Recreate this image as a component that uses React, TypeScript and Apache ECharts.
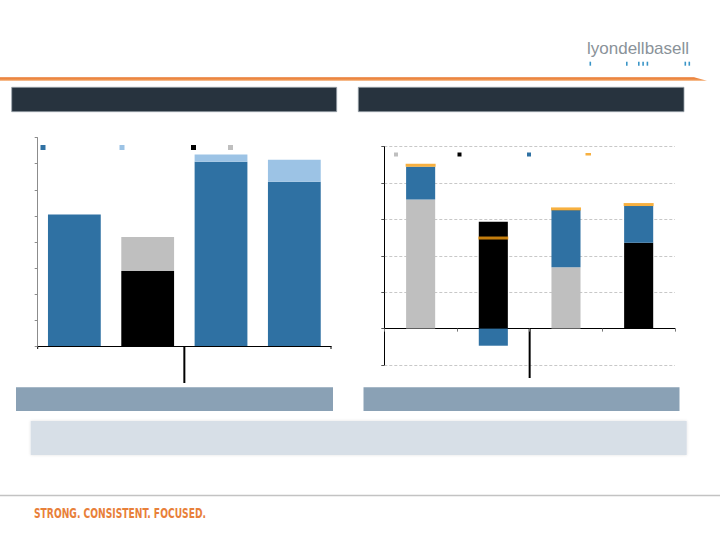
import React, { useEffect, useRef } from 'react';
import * as echarts from 'echarts';

// ---- Left chart data (stacked bars, axis units 0..8) ----
const leftCategories = ['Bar 1', 'Bar 2', 'Bar 3', 'Bar 4'];
const leftDarkBlue = [5.05, null, 7.08, 6.31];
const leftLightBlue = [null, null, 0.27, 0.84];
const leftBlack = [null, 2.88, null, null];
const leftGray = [null, 1.31, null, null];
const leftAxisMin = 0;
const leftAxisMax = 8;
const leftAxisInterval = 1;

// ---- Right chart data (stacked bars with total marker, axis units -1..5) ----
const rightCategories = ['Bar 1', 'Bar 2', 'Bar 3', 'Bar 4'];
const rightGray = [3.55, null, 1.69, null];
const rightBlack = [null, 2.94, null, 2.36];
const rightBlue = [0.9, -0.47, 1.57, 1.01];
const rightTotal = [4.49, 2.49, 3.29, 3.41];
const rightAxisMin = -1;
const rightAxisMax = 5;
const rightAxisInterval = 1;

const C_DARKBLUE = '#2F71A3';
const C_LIGHTBLUE = '#9CC3E5';
const C_BLACK = '#000000';
const C_GRAY = '#BFBFBF';
const C_ORANGE = '#F59C10';

export default function App() {
  const ref = useRef<HTMLDivElement>(null);

  useEffect(() => {
    if (!ref.current) return;
    const chart = echarts.init(ref.current, undefined, { renderer: 'svg' });

    const legendItem = (name: string, left: number, top: number, w: number, h: number) => ({
      show: true,
      data: [name],
      left,
      top,
      padding: 0,
      itemWidth: w,
      itemHeight: h,
      icon: 'rect',
      formatter: () => '',
      textStyle: { fontSize: 1 },
      selectedMode: false,
    });

    const option: any = {
      animation: false,
      backgroundColor: '#ffffff',
      grid: [
        { left: 37.7, top: 137.7, width: 293.3, height: 208.3 },
        { left: 384.3, top: 146.7, width: 290.7, height: 218.3 },
      ],
      legend: [
        legendItem('L Dark', 40.5, 145, 5, 5),
        legendItem('L Light', 119.5, 145, 5, 5),
        legendItem('L Black', 191, 145, 5, 5),
        legendItem('L Gray', 228, 145, 5, 5),
        legendItem('R Gray', 394, 152.5, 4, 4),
        legendItem('R Black', 457.5, 152.5, 4, 4),
        legendItem('R Blue', 527, 152.5, 4, 4),
        legendItem('R Total', 585.5, 153, 5.5, 2.5),
      ],
      xAxis: [
        {
          gridIndex: 0,
          type: 'category',
          data: leftCategories,
          axisLine: { lineStyle: { color: '#000', width: 1 } },
          axisTick: { show: false },
          axisLabel: { show: false },
          splitLine: { show: false },
        },
        {
          gridIndex: 1,
          type: 'category',
          data: rightCategories,
          axisLine: { onZero: true, lineStyle: { color: '#000', width: 1 } },
          axisTick: { show: true, length: 3, lineStyle: { color: '#777' } },
          axisLabel: { show: false },
          splitLine: { show: false },
        },
      ],
      yAxis: [
        {
          gridIndex: 0,
          type: 'value',
          min: leftAxisMin,
          max: leftAxisMax,
          interval: leftAxisInterval,
          axisLine: { show: true, lineStyle: { color: '#8C8C8C' } },
          axisTick: { show: true, length: 3, lineStyle: { color: '#8C8C8C' } },
          axisLabel: { show: false },
          splitLine: { show: false },
        },
        {
          gridIndex: 1,
          type: 'value',
          min: rightAxisMin,
          max: rightAxisMax,
          interval: rightAxisInterval,
          axisLine: { show: true, onZero: false, lineStyle: { color: '#000' } },
          axisTick: { show: true, length: 3, lineStyle: { color: '#555' } },
          axisLabel: { show: false },
          splitLine: { show: true, lineStyle: { color: '#C8C8C8', type: [3, 2], width: 1 } },
        },
      ],
      series: [
        { name: 'L Dark', type: 'bar', stack: 'L', xAxisIndex: 0, yAxisIndex: 0, data: leftDarkBlue, itemStyle: { color: C_DARKBLUE }, barCategoryGap: '28%' },
        { name: 'L Light', type: 'bar', stack: 'L', xAxisIndex: 0, yAxisIndex: 0, data: leftLightBlue, itemStyle: { color: C_LIGHTBLUE }, barCategoryGap: '28%' },
        { name: 'L Black', type: 'bar', stack: 'L', xAxisIndex: 0, yAxisIndex: 0, data: leftBlack, itemStyle: { color: C_BLACK }, barCategoryGap: '28%' },
        { name: 'L Gray', type: 'bar', stack: 'L', xAxisIndex: 0, yAxisIndex: 0, data: leftGray, itemStyle: { color: C_GRAY }, barCategoryGap: '28%' },
        { name: 'R Gray', type: 'bar', stack: 'R', xAxisIndex: 1, yAxisIndex: 1, data: rightGray, itemStyle: { color: C_GRAY }, barCategoryGap: '60%' },
        { name: 'R Black', type: 'bar', stack: 'R', xAxisIndex: 1, yAxisIndex: 1, data: rightBlack, itemStyle: { color: C_BLACK }, barCategoryGap: '60%' },
        { name: 'R Blue', type: 'bar', stack: 'R', xAxisIndex: 1, yAxisIndex: 1, data: rightBlue, itemStyle: { color: C_DARKBLUE }, barCategoryGap: '60%' },
        {
          name: 'R Total',
          type: 'scatter',
          xAxisIndex: 1,
          yAxisIndex: 1,
          data: rightTotal,
          symbol: 'rect',
          symbolSize: [30, 3],
          itemStyle: { color: C_ORANGE },
          z: 5,
        },
      ],
    };

    chart.setOption(option);

    // dividers computed from axis positions
    const lx0 = chart.convertToPixel({ xAxisIndex: 0 }, leftCategories[0]) as number;
    const lx1 = chart.convertToPixel({ xAxisIndex: 0 }, leftCategories[1]) as number;
    const lx2 = chart.convertToPixel({ xAxisIndex: 0 }, leftCategories[2]) as number;
    const lx3 = chart.convertToPixel({ xAxisIndex: 0 }, leftCategories[3]) as number;
    const lband = lx1 - lx0;
    const ly0 = chart.convertToPixel({ yAxisIndex: 0 }, 0) as number;
    const rx1 = chart.convertToPixel({ xAxisIndex: 1 }, rightCategories[1]) as number;
    const rx2 = chart.convertToPixel({ xAxisIndex: 1 }, rightCategories[2]) as number;
    const ry0 = chart.convertToPixel({ yAxisIndex: 1 }, 0) as number;

    const blueBars = [589.5, 626, 638, 642.3, 646.6, 684.5, 688.5];

    const graphic: any[] = [
      // logo
      {
        type: 'text',
        x: 587,
        y: 40,
        style: { text: 'lyondellbasell', fill: '#8A9299', font: '17px "Liberation Sans", Arial, sans-serif' },
      },
      ...blueBars.map((bx) => ({
        type: 'rect',
        shape: { x: bx, y: 61.7, width: 1.6, height: 4 },
        style: { fill: '#3A95C7' },
      })),
      // orange rule
      {
        type: 'polygon',
        shape: { points: [[0, 77.3], [694, 77.3], [707, 80.7], [0, 80.7]] },
        style: {
          fill: new echarts.graphic.LinearGradient(0, 0, 0, 1, [
            { offset: 0, color: '#E8742A' },
            { offset: 1, color: '#F3A566' },
          ]),
        },
      },
      // dark title bars
      { type: 'rect', shape: { x: 11.7, y: 87.3, width: 325, height: 24.4 }, style: { fill: '#27333E', stroke: '#9AA3AB', lineWidth: 0.8 } },
      { type: 'rect', shape: { x: 358.3, y: 87.3, width: 325.7, height: 24.4 }, style: { fill: '#27333E', stroke: '#9AA3AB', lineWidth: 0.8 } },
      // bottom grey-blue bars
      { type: 'rect', shape: { x: 16, y: 387.3, width: 317, height: 23.7 }, style: { fill: '#8AA1B5' } },
      { type: 'rect', shape: { x: 363.5, y: 387.3, width: 316, height: 23.7 }, style: { fill: '#8AA1B5' } },
      // light box
      { type: 'rect', shape: { x: 30.7, y: 421, width: 656, height: 34 }, style: { fill: '#D7DFE7', shadowBlur: 3, shadowColor: 'rgba(0,0,0,0.12)' } },
      // footer rule
      { type: 'line', shape: { x1: 0, y1: 495.5, x2: 720, y2: 495.5 }, style: { stroke: '#C3C3C3', lineWidth: 1.5 } },
      // footer tagline
      {
        type: 'text',
        x: 34,
        y: 506,
        scaleX: 0.728,
        style: {
          text: 'STRONG. CONSISTENT. FOCUSED.',
          fill: '#E8803A',
          font: 'bold 14px "Liberation Sans Narrow", "DejaVu Sans Condensed", Arial, sans-serif',
        },
      },
      // left chart ticks and divider
      { type: 'line', shape: { x1: lx0 - lband / 2, y1: ly0, x2: lx0 - lband / 2, y2: ly0 + 3 }, style: { stroke: '#000', lineWidth: 1 } },
      { type: 'line', shape: { x1: lx3 + lband / 2, y1: ly0, x2: lx3 + lband / 2, y2: ly0 + 3 }, style: { stroke: '#000', lineWidth: 1 } },
      { type: 'line', shape: { x1: (lx1 + lx2) / 2, y1: ly0, x2: (lx1 + lx2) / 2, y2: 383 }, style: { stroke: '#000', lineWidth: 2 } },
      // right chart divider
      { type: 'line', shape: { x1: (rx1 + rx2) / 2, y1: ry0, x2: (rx1 + rx2) / 2, y2: 378 }, style: { stroke: '#000', lineWidth: 2 } },
    ];

    chart.setOption({ graphic });

    return () => chart.dispose();
  }, []);

  return (
    <div
      ref={ref}
      style={{ position: 'absolute', left: 0, top: 0, width: 720, height: 540, background: '#fff' }}
    />
  );
}
